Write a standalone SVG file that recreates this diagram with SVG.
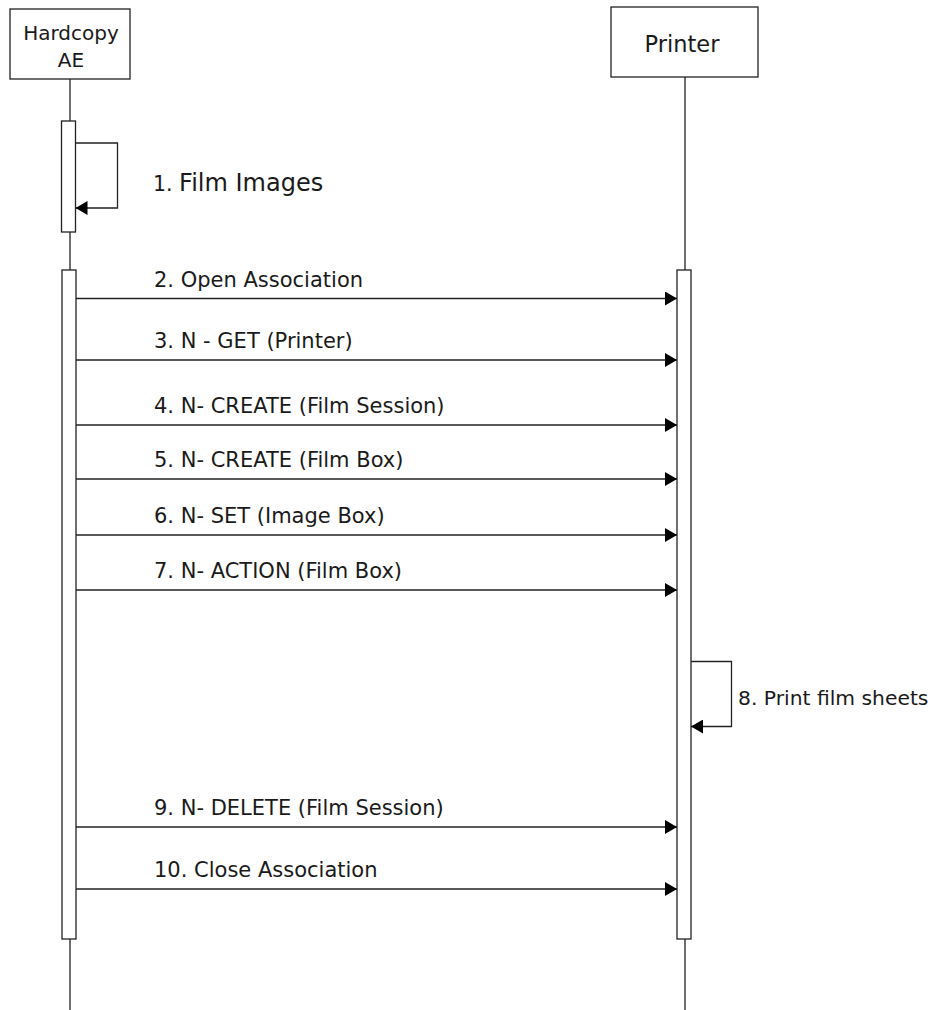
<svg xmlns="http://www.w3.org/2000/svg" width="937" height="1010" viewBox="0 0 937 1010">
<defs>
<marker id="ah" markerWidth="12" markerHeight="14" refX="12" refY="7" orient="auto" markerUnits="userSpaceOnUse">
<path d="M0,0 L12,7 L0,14 Z" fill="#000"/>
</marker>
<style>
.box{fill:#fff;stroke:#222;stroke-width:1.3}
.life{stroke:#222;stroke-width:1.3;fill:none}
.act{fill:#fff;stroke:#222;stroke-width:1.3}
.msg{stroke:#222;stroke-width:1.3;fill:none;marker-end:url(#ah)}
text{font-family:"DejaVu Sans",Verdana,sans-serif;fill:#1a1a1a}
.lbl{font-size:21px}
</style>
</defs>
<rect width="937" height="1010" fill="#fff"/>
<g id="lifelines">
<line class="life" x1="70" y1="79" x2="70" y2="1010"/>
<line class="life" x1="685" y1="77" x2="685" y2="1010"/>
</g>
<g id="hardcopy">
<rect class="box" x="10" y="9" width="120" height="70"/>
<text x="71" y="40" font-size="20" text-anchor="middle">Hardcopy</text>
<text x="71" y="67" font-size="20" text-anchor="middle">AE</text>
</g>
<g id="printer">
<rect class="box" x="611" y="7" width="147" height="70"/>
<text x="682" y="52" font-size="22.5" text-anchor="middle">Printer</text>
</g>
<g id="activations">
<rect class="act" x="61.5" y="121" width="14" height="111"/>
<rect class="act" x="62" y="270" width="14" height="669"/>
<rect class="act" x="677" y="270" width="14" height="669"/>
</g>
<g id="connectors">
<path class="msg" d="M75.5,143 H117.5 V208 H75.5"/>
<line class="msg" x1="76" y1="298.5" x2="677" y2="298.5"/>
<line class="msg" x1="76" y1="360" x2="677" y2="360"/>
<line class="msg" x1="76" y1="425" x2="677" y2="425"/>
<line class="msg" x1="76" y1="479" x2="677" y2="479"/>
<line class="msg" x1="76" y1="535" x2="677" y2="535"/>
<line class="msg" x1="76" y1="590" x2="677" y2="590"/>
<path class="msg" d="M691,661.5 H731.5 V726.5 H691"/>
<line class="msg" x1="76" y1="827" x2="677" y2="827"/>
<line class="msg" x1="76" y1="889" x2="677" y2="889"/>
</g>
<g id="labels">
<text x="153" y="191" font-size="24"><tspan font-size="20.5">1. </tspan>Film Images</text>
<text class="lbl" x="154" y="287">2. Open Association</text>
<text class="lbl" x="154" y="348">3. N - GET (Printer)</text>
<text class="lbl" x="154" y="413">4. N- CREATE (Film Session)</text>
<text class="lbl" x="154" y="467">5. N- CREATE (Film Box)</text>
<text class="lbl" x="154" y="523">6. N- SET (Image Box)</text>
<text class="lbl" x="154" y="578">7. N- ACTION (Film Box)</text>
<text x="738" y="705" font-size="20.3">8. Print film sheets</text>
<text class="lbl" x="154" y="815">9. N- DELETE (Film Session)</text>
<text class="lbl" x="154" y="877">10. Close Association</text>
</g>
</svg>
